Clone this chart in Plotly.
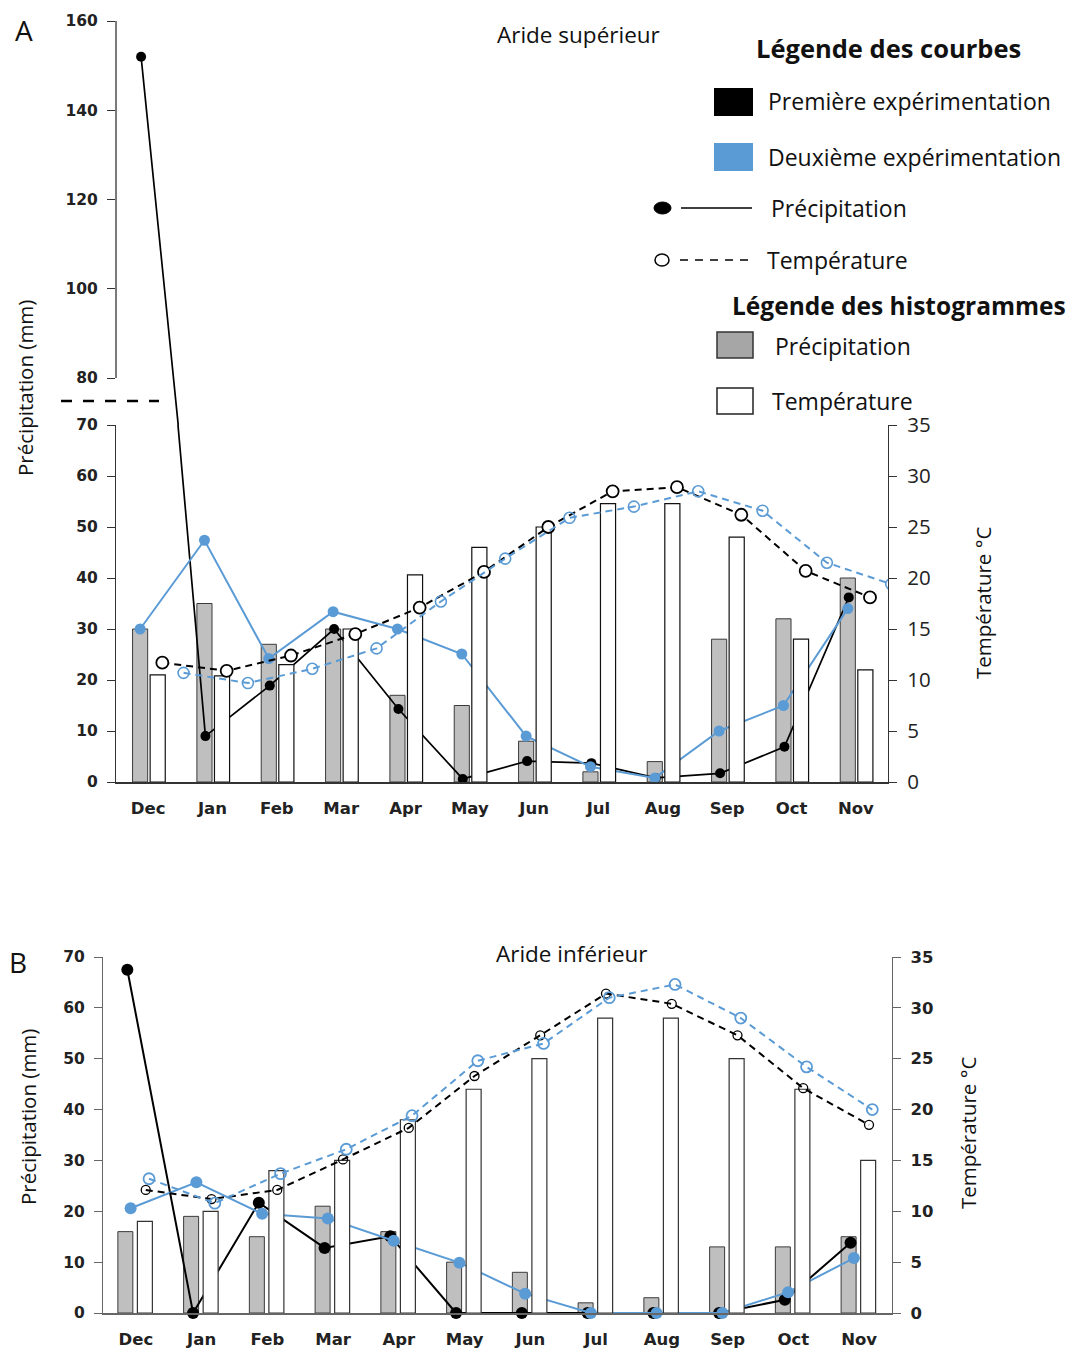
import plotly.graph_objects as go

months = ["Dec", "Jan", "Feb", "Mar", "Apr", "May", "Jun", "Jul", "Aug", "Sep", "Oct", "Nov"]

# ---------- A : Aride supérieur ----------
a_bar_precip = [30, 35, 27, 30, 17, 15, 8, 2, 4, 28, 32, 40]          # mm
a_bar_temp = [10.5, 10.4, 11.5, 15, 20.3, 23, 25, 27.3, 27.3, 24, 14, 11]  # °C
a_precip_1 = [152, 9, 18.9, 30, 14.3, 0.6, 4.1, 3.7, 0.8, 1.7, 6.9, 36.2]
a_precip_2 = [30, 47.4, 24.2, 33.4, 30, 25.1, 9, 3, 0.8, 10, 15, 34]
a_temp_1 = [11.7, 10.9, 12.4, 14.5, 17.1, 20.6, 25, 28.5, 28.9, 26.2, 20.7, 18.1]
a_temp_2 = [10.7, 9.7, 11.1, 13.1, 17.7, 21.9, 25.9, 27, 28.5, 26.6, 21.5, 19.4]

# ---------- B : Aride inférieur ----------
b_bar_precip = [16, 19, 15, 21, 16, 10, 8, 2, 3, 13, 13, 15]
b_bar_temp = [9, 10, 14, 15, 19, 22, 25, 29, 29, 25, 22, 15]
b_precip_1 = [67.5, 0, 21.7, 12.8, 15.1, 0, 0, 0, 0, 0, 2.6, 13.8]
b_precip_2 = [20.6, 25.7, 19.5, 18.6, 14.2, 9.9, 3.8, 0, 0, 0, 4.1, 10.8]
b_temp_1 = [12.1, 11.2, 12.1, 15.1, 18.2, 23.3, 27.3, 31.4, 30.4, 27.3, 22.1, 18.5]
b_temp_2 = [13.2, 10.8, 13.7, 16.1, 19.4, 24.8, 26.5, 31.0, 32.3, 29.0, 24.2, 20.0]

W, H = 1078, 1349
PAGE = 8                      # default body margin of the html page
FW, FH = W - PAGE, H - PAGE
BLUE = "#5b9bd5"
GREY = "#bfbfbf"


def fx(p):
    return (p - PAGE) / FW


def fy(p):
    return 1 - (p - PAGE) / FH


idx = list(range(len(months)))


def off(d):
    return [i + d for i in idx]


fig = go.Figure()

# ---------------- A ----------------
fig.add_trace(go.Bar(x=off(-0.125), y=a_bar_precip, width=0.235, xaxis="x", yaxis="y",
                     marker=dict(color=GREY, line=dict(color="#3a3a3a", width=1))))
fig.add_trace(go.Bar(x=off(0.148), y=a_bar_temp, width=0.235, xaxis="x", yaxis="y2",
                     marker=dict(color="white", line=dict(color="#111", width=1.2))))
fig.add_trace(go.Scatter(x=off(0.22), y=a_temp_1, xaxis="x", yaxis="y2", mode="lines+markers",
                         line=dict(color="black", width=2, dash="7px,5px"),
                         marker=dict(symbol="circle", size=12, color="white",
                                     line=dict(color="black", width=1.8))))
fig.add_trace(go.Scatter(x=off(0.55), y=a_temp_2, xaxis="x", yaxis="y2", mode="lines+markers",
                         line=dict(color=BLUE, width=2, dash="7px,5px"),
                         marker=dict(symbol="circle-open", size=11, color=BLUE,
                                     line=dict(color=BLUE, width=1.6))))
for ya in ["y", "y3"]:
    fig.add_trace(go.Scatter(x=off(-0.11), y=a_precip_1, xaxis="x", yaxis=ya, mode="lines+markers",
                             line=dict(color="black", width=1.7),
                             marker=dict(size=10, color="black")))
fig.add_trace(go.Scatter(x=off(-0.125), y=a_precip_2, xaxis="x", yaxis="y", mode="lines+markers",
                         line=dict(color=BLUE, width=2),
                         marker=dict(size=11, color=BLUE)))

# ---------------- B ----------------
fig.add_trace(go.Bar(x=off(-0.16), y=b_bar_precip, width=0.228, xaxis="x2", yaxis="y4",
                     marker=dict(color=GREY, line=dict(color="#3a3a3a", width=1))))
fig.add_trace(go.Bar(x=off(0.137), y=b_bar_temp, width=0.228, xaxis="x2", yaxis="y5",
                     marker=dict(color="white", line=dict(color="#333", width=1.2))))
fig.add_trace(go.Scatter(x=off(0.15), y=b_temp_1, xaxis="x2", yaxis="y5", mode="lines+markers",
                         line=dict(color="black", width=2, dash="7px,5px"),
                         marker=dict(symbol="circle-open", size=9, color="black",
                                     line=dict(color="black", width=1.3))))
fig.add_trace(go.Scatter(x=off(0.2), y=b_temp_2, xaxis="x2", yaxis="y5", mode="lines+markers",
                         line=dict(color=BLUE, width=2, dash="7px,5px"),
                         marker=dict(symbol="circle-open", size=11, color=BLUE,
                                     line=dict(color=BLUE, width=1.8))))
fig.add_trace(go.Scatter(x=off(-0.13), y=b_precip_1, xaxis="x2", yaxis="y4", mode="lines+markers",
                         line=dict(color="black", width=2), cliponaxis=False,
                         marker=dict(size=12, color="black")))
fig.add_trace(go.Scatter(x=off(-0.08), y=b_precip_2, xaxis="x2", yaxis="y4", mode="lines+markers",
                         line=dict(color=BLUE, width=2), cliponaxis=False,
                         marker=dict(size=12, color=BLUE)))

bold_tick = dict(family="DejaVu Sans", size=15.5, color="#222", weight="bold")
bold_xtick = dict(family="DejaVu Sans", size=16.5, color="#222", weight="bold")
reg_tick = dict(family="Open Sans", size=20.5, color="#222")

common_x = dict(range=[-0.5, 11.5], tickvals=idx, ticktext=months, showgrid=False, zeroline=False,
                showline=True, linecolor="#333", linewidth=1.5, ticks="", tickfont=bold_xtick,
                ticklabelstandoff=10, fixedrange=True, automargin=False)
common_y = dict(showgrid=False, zeroline=False, showline=True, linewidth=1.3, ticks="outside",
                ticklen=8, tickwidth=1.2, ticklabelstandoff=6, automargin=False)

up_scale = (378 - 21) / 80.0       # px per mm in upper (broken) section
up_low = 80 - (425 - 378) / up_scale

fig.update_layout(
    width=FW, height=FH, margin=dict(l=0, r=0, t=0, b=0, pad=0), autosize=False,
    paper_bgcolor="white", plot_bgcolor="rgba(0,0,0,0)",
    showlegend=False, barmode="overlay",
    xaxis=dict(domain=[fx(116), fx(888)], anchor="y", **common_x),
    yaxis=dict(domain=[fy(782), fy(425)], range=[0, 70], tickvals=list(range(0, 71, 10)),
               linecolor="#333", tickcolor="#333", tickfont=bold_tick, anchor="x", **common_y),
    yaxis2=dict(range=[0, 35], tickvals=list(range(0, 36, 5)), overlaying="y", side="right",
                anchor="x", linecolor="#333", tickcolor="#333", tickfont=reg_tick, **common_y),
    yaxis3=dict(domain=[fy(425), fy(21)], range=[up_low, 160], tickvals=list(range(80, 161, 20)),
                anchor="x", showgrid=False, zeroline=False, showline=False, ticks="outside",
                ticklen=8, tickwidth=1.2, tickcolor="#333", ticklabelstandoff=6, tickfont=bold_tick,
                automargin=False),
    xaxis2=dict(domain=[fx(103), fx(892)], anchor="y4", **common_x),
    yaxis4=dict(domain=[fy(1313), fy(957)], range=[0, 70], tickvals=list(range(0, 71, 10)),
                linecolor="#666", tickcolor="#666", tickfont=bold_tick, anchor="x2", **common_y),
    yaxis5=dict(range=[0, 35], tickvals=list(range(0, 36, 5)), overlaying="y4", side="right",
                anchor="x2", linecolor="#666", tickcolor="#666",
                tickfont=dict(family="DejaVu Sans", size=16.5, color="#222", weight="bold"), **common_y),
)
fig.update_layout(xaxis2_linecolor="#666")

shapes = []
# upper axis line (broken section)
shapes.append(dict(type="line", xref="x domain", yref="y3", x0=0, x1=0, y0=80, y1=160,
                   line=dict(color="#333", width=1.3)))
# break mark
shapes.append(dict(type="line", xref="paper", yref="paper", x0=fx(61), x1=fx(159), y0=fy(401), y1=fy(401),
                   line=dict(color="black", width=2.5, dash="11px,11px")))
# legend symbols
shapes.append(dict(type="rect", xref="paper", yref="paper", x0=fx(714), x1=fx(753), y0=fy(116), y1=fy(88),
                   fillcolor="black", line=dict(width=0)))
shapes.append(dict(type="rect", xref="paper", yref="paper", x0=fx(714), x1=fx(753), y0=fy(171), y1=fy(143),
                   fillcolor=BLUE, line=dict(width=0)))
shapes.append(dict(type="circle", xref="paper", yref="paper", x0=fx(654), x1=fx(671), y0=fy(214), y1=fy(202),
                   fillcolor="black", line=dict(color="black", width=1)))
shapes.append(dict(type="line", xref="paper", yref="paper", x0=fx(681), x1=fx(752), y0=fy(208), y1=fy(208),
                   line=dict(color="black", width=1.6)))
shapes.append(dict(type="circle", xref="paper", yref="paper", x0=fx(655), x1=fx(669), y0=fy(266), y1=fy(254),
                   fillcolor="white", line=dict(color="black", width=1.5)))
shapes.append(dict(type="line", xref="paper", yref="paper", x0=fx(680), x1=fx(752), y0=fy(260), y1=fy(260),
                   line=dict(color="black", width=1.6, dash="8px,7px")))
shapes.append(dict(type="rect", xref="paper", yref="paper", x0=fx(717), x1=fx(753), y0=fy(358), y1=fy(332),
                   fillcolor="#a6a6a6", line=dict(color="#333", width=1.5)))
shapes.append(dict(type="rect", xref="paper", yref="paper", x0=fx(717), x1=fx(753), y0=fy(414), y1=fy(388),
                   fillcolor="white", line=dict(color="#222", width=1.5)))
fig.update_layout(shapes=shapes)

TXT = "Open Sans"
ann = []


def add_text(text, x, y, size, xanchor="left", bold=False, angle=0, family=TXT, yanchor="middle"):
    f = dict(family=family, size=size, color="#111")
    if bold:
        f["weight"] = "bold"
    ann.append(dict(text=text, x=fx(x), y=fy(y), xref="paper", yref="paper", showarrow=False,
                    xanchor=xanchor, yanchor=yanchor, font=f, textangle=angle))


add_text("A", 24, 9, 28, xanchor="center", yanchor="top")
add_text("B", 18, 962, 28, xanchor="center")
add_text("Aride supérieur", 578, 35, 22.5, xanchor="center")
add_text("Aride inférieur", 572, 953, 22.5, xanchor="center")
add_text("Légende des courbes", 888, 48, 25.5, xanchor="center", bold=True)
add_text("Première expérimentation", 766, 101, 23)
add_text("Deuxième expérimentation", 766, 157, 23)
add_text("Précipitation", 769, 208, 23)
add_text("Température", 765, 260, 23)
add_text("Légende des histogrammes", 899, 305, 24.5, xanchor="center", bold=True)
add_text("Précipitation", 773, 346, 23)
add_text("Température", 770, 401, 23)
add_text("Précipitation (mm)", 25, 388, 20.5, xanchor="center", angle=-90)
add_text("Température °C", 983, 603, 20.5, xanchor="center", angle=-90)
add_text("Précipitation (mm)", 28, 1117, 20.5, xanchor="center", angle=-90)
add_text("Température °C", 968, 1133, 20.5, xanchor="center", angle=-90)
fig.update_layout(annotations=ann)

fig.write_html("out.html")
